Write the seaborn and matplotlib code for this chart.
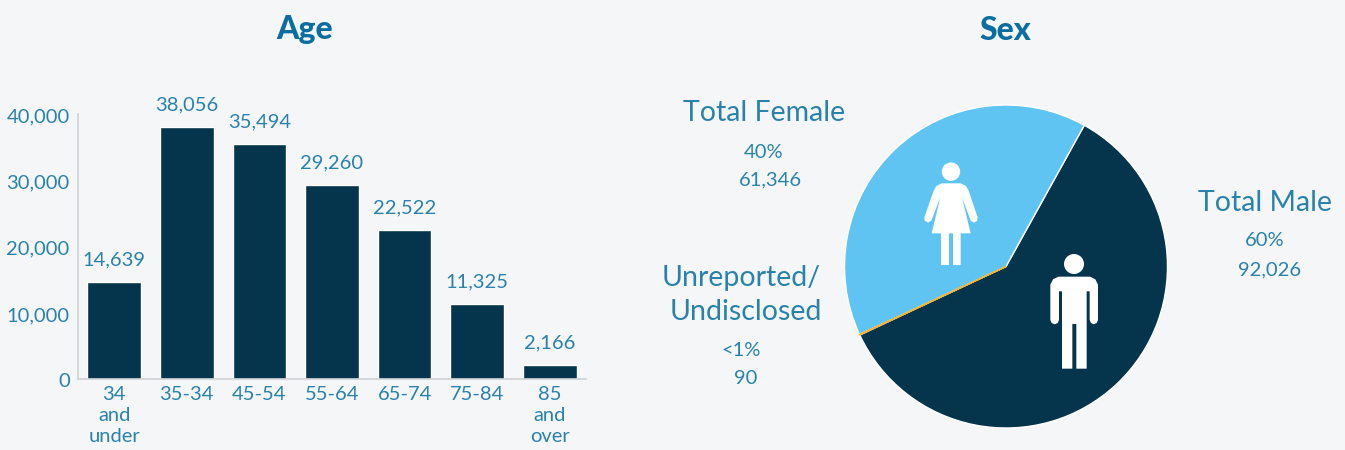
import matplotlib
matplotlib.use("Agg")
import matplotlib.pyplot as plt
from matplotlib.patches import Circle, Polygon
from matplotlib.transforms import ScaledTranslation
import seaborn as sns
import pandas as pd

# data
age_groups = ["34\nand\nunder", "35-34", "45-54", "55-64", "65-74", "75-84", "85\nand\nover"]
age_counts = [14639, 38056, 35494, 29260, 22522, 11325, 2166]
y_ticks = [0, 10000, 20000, 30000, 40000]

sex_groups = ["Total Male", "Unreported/Undisclosed", "Total Female"]
sex_counts = [92026, 90, 61346]

BG = "#F5F6F8"
NAVY = "#05344D"
SKY = "#5FC4F2"
GOLD = "#F5B335"
TEXT = "#2A82AB"
TITLE = "#0B6E9E"

sns.set_style("white")
plt.rcParams["font.family"] = ["Lato", "DejaVu Sans"]

W, H = 1345, 450
fig = plt.figure(figsize=(W / 100, H / 100), dpi=100, facecolor=BG)


def px_axes(left, top, right, bottom):
    return fig.add_axes([left / W, 1 - bottom / H, (right - left) / W, (bottom - top) / H])


# bar chart
ax = px_axes(78, 114, 586, 379.3)
ax.set_facecolor(BG)
df = pd.DataFrame({"age": age_groups, "count": age_counts})
sns.barplot(data=df, x="age", y="count", color=NAVY, saturation=1, width=0.74, ax=ax)
ax.set_xlim(-0.5, 6.5)
ax.set_ylim(0, 40000)
ax.set_yticks(y_ticks)
ax.set_yticklabels([f"{v:,}" for v in y_ticks])
ax.set_xlabel("")
ax.set_ylabel("")
ax.tick_params(axis="both", length=0, labelsize=14.5, labelcolor=TEXT)
ax.tick_params(axis="y", pad=6)
ax.tick_params(axis="x", pad=5)
for lab in ax.get_xticklabels():
    lab.set_linespacing(1.27)
down = ScaledTranslation(0, -1 / 100, fig.dpi_scale_trans)
for lab in ax.get_yticklabels():
    lab.set_transform(lab.get_transform() + down)
sns.despine(ax=ax)
for side in ["left", "bottom"]:
    ax.spines[side].set_color("#CFD2D6")
    ax.spines[side].set_linewidth(1.2)
ax.bar_label(ax.containers[0], fmt="{:,.0f}", padding=10, fontsize=14.5, color=TEXT)

# pie chart
pie_ax = px_axes(1006 - 165, 266.5 - 165, 1006 + 165, 266.5 + 165)
wedges, _ = pie_ax.pie(
    sex_counts,
    colors=[NAVY, GOLD, SKY],
    startangle=61,
    counterclock=False,
    radius=161.5 / 165,
    wedgeprops={"edgecolor": "white", "linewidth": 1.0},
)
pie_ax.set_xlim(-1, 1)
pie_ax.set_ylim(-1, 1)
wedges[1].set_edgecolor(GOLD)
wedges[1].set_linewidth(1.0)
wedges[1].set_zorder(5)

# overlay in pixel coordinates for titles, callouts and the icons
over = fig.add_axes([0, 0, 1, 1], facecolor="none")
over.set_xlim(0, W)
over.set_ylim(H, 0)
over.axis("off")

over.text(305, 30, "Age", fontsize=23, fontweight="black", color=TITLE, ha="center", va="center")
over.text(1005, 30, "Sex", fontsize=23, fontweight="black", color=TITLE, ha="center", va="center")

callouts = [
    (764, 113, "Total Female", 20.5),
    (764, 152, "40%", 14.5),
    (770, 180, "61,346", 14.5),
    (1265, 203, "Total Male", 20.5),
    (1265, 241, "60%", 14.5),
    (1270, 270, "92,026", 14.5),
    (741, 278, "Unreported/", 20.5),
    (746, 312, "Undisclosed", 20.5),
    (741, 351, "<1%", 14.5),
    (746, 379, "90", 14.5),
]
for x, y, s, size in callouts:
    over.text(x, y, s, fontsize=size, color=TEXT, ha="center", va="center")


# icons, outlines taken from a 3x crop starting at (840, 120)
def crop(points):
    return [(840 + px / 3, 120 + py / 3) for px, py in points]


female = [
    (305, 190), (362, 190), (378, 198), (386, 212), (413, 292), (411, 303), (401, 308),
    (392, 302), (366, 232), (392, 340), (362, 340), (362, 435), (339, 435), (339, 340),
    (327, 340), (327, 435), (303, 435), (303, 340), (275, 340), (301, 232), (274, 302),
    (264, 308), (254, 302), (253, 292), (281, 212), (289, 198),
]
male = [
    (655, 470), (750, 470), (766, 478), (774, 494), (774, 600), (770, 609), (761, 613),
    (753, 609), (749, 600), (749, 514), (740, 514), (740, 746), (709, 746), (709, 612),
    (697, 612), (697, 746), (666, 746), (666, 514), (657, 514), (657, 600), (653, 609),
    (644, 613), (635, 609), (631, 600), (631, 494), (639, 478),
]
over.add_patch(Polygon(crop(female), closed=True, fc="white", ec="none"))
over.add_patch(Polygon(crop(male), closed=True, fc="white", ec="none"))
over.add_patch(Circle((840 + 333 / 3, 120 + 155 / 3), 9.2, fc="white", ec="none"))
over.add_patch(Circle((840 + 702 / 3, 120 + 432 / 3), 10, fc="white", ec="none"))

fig.savefig("out.png", dpi=100, facecolor=BG)
